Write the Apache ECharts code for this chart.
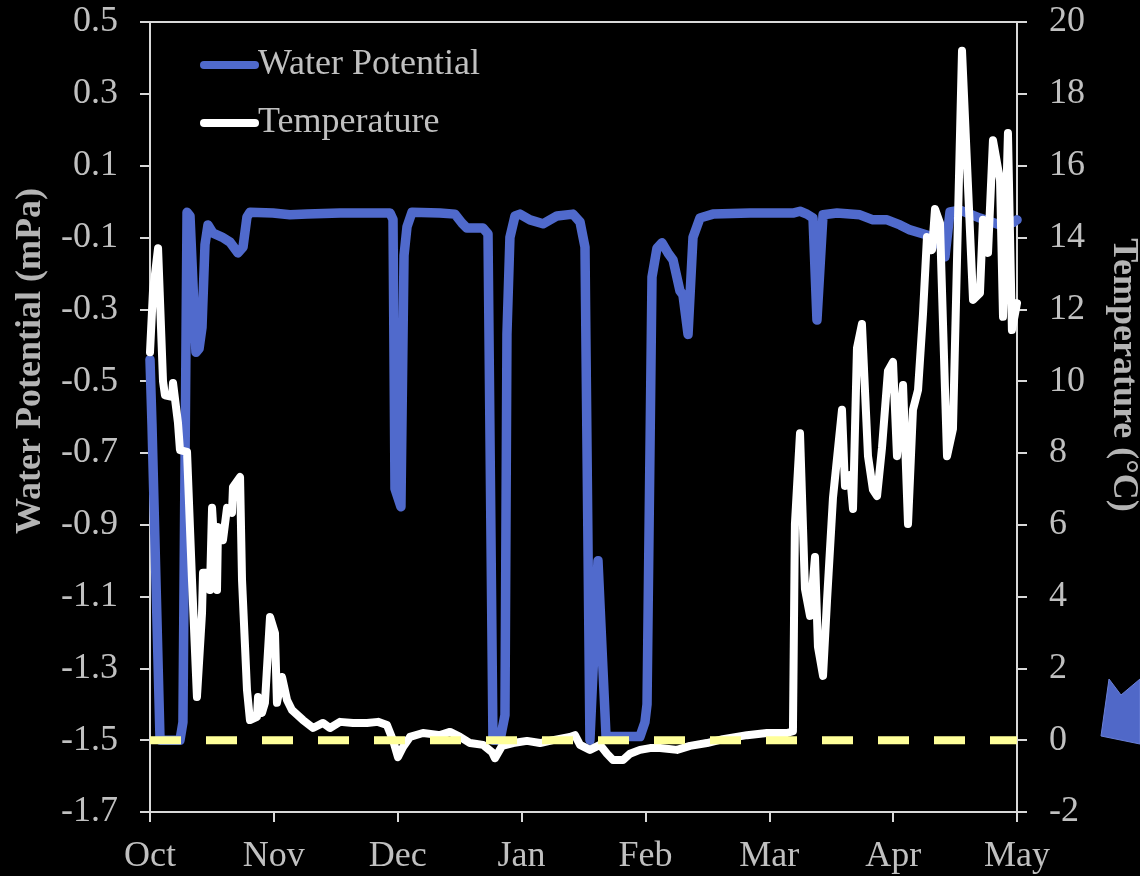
<!DOCTYPE html>
<html>
<head>
<meta charset="utf-8">
<script src="https://cdn.jsdelivr.net/npm/echarts@6/dist/echarts.min.js"></script>
<style>
html,body{margin:0;padding:0;background:#000;}
#chart{width:1140px;height:876px;}
</style>
</head>
<body>
<div id="chart"></div>
<script>
// ---- data (x in months since Oct 1) ----
const monthLabels = ['Oct','Nov','Dec','Jan','Feb','Mar','Apr','May'];
const monthTicks = [0,1,2,3,4,5,6,7];
const wpTicks = [-1.7,-1.5,-1.3,-1.1,-0.9,-0.7,-0.5,-0.3,-0.1,0.1,0.3,0.5];
const tempTicks = [-2,0,2,4,6,8,10,12,14,16,18,20];

const wpMonth = [0.000,0.016,0.081,0.242,0.266,0.299,0.323,0.371,0.396,0.420,0.444,0.468,0.509,0.581,0.646,0.710,0.751,0.783,0.807,0.993,1.130,1.268,1.534,1.776,1.938,1.962,1.978,2.026,2.051,2.075,2.115,2.341,2.462,2.519,2.559,2.689,2.729,2.769,2.826,2.866,2.882,2.906,2.947,2.987,3.068,3.173,3.286,3.415,3.472,3.512,3.552,3.617,3.682,3.956,3.996,4.013,4.053,4.093,4.134,4.182,4.223,4.279,4.303,4.344,4.384,4.440,4.545,4.844,5.191,5.248,5.304,5.353,5.385,5.434,5.547,5.732,5.837,5.951,6.055,6.136,6.273,6.378,6.418,6.459,6.540,6.701,6.863,6.968,7.000];
const wpValue = [-0.44,-0.62,-1.50,-1.50,-1.45,-0.03,-0.04,-0.42,-0.41,-0.35,-0.12,-0.065,-0.088,-0.099,-0.113,-0.143,-0.127,-0.043,-0.03,-0.032,-0.037,-0.035,-0.032,-0.032,-0.032,-0.05,-0.80,-0.85,-0.15,-0.07,-0.03,-0.032,-0.035,-0.06,-0.074,-0.074,-0.09,-1.50,-1.50,-1.43,-0.37,-0.10,-0.04,-0.035,-0.051,-0.062,-0.040,-0.035,-0.057,-0.127,-1.50,-1.00,-1.49,-1.49,-1.45,-1.40,-0.21,-0.13,-0.115,-0.143,-0.163,-0.249,-0.26,-0.37,-0.10,-0.046,-0.035,-0.032,-0.032,-0.027,-0.035,-0.046,-0.33,-0.037,-0.032,-0.037,-0.051,-0.051,-0.065,-0.079,-0.093,-0.12,-0.154,-0.029,-0.024,-0.046,-0.065,-0.058,-0.051];

const tempMonth = [0.000,0.024,0.065,0.105,0.121,0.178,0.186,0.226,0.242,0.299,0.339,0.379,0.420,0.428,0.468,0.484,0.501,0.541,0.549,0.589,0.622,0.662,0.670,0.727,0.743,0.783,0.807,0.864,0.872,0.904,0.928,0.969,1.009,1.025,1.066,1.106,1.146,1.235,1.316,1.397,1.453,1.534,1.639,1.752,1.841,1.913,1.962,2.002,2.043,2.099,2.204,2.341,2.422,2.503,2.584,2.689,2.761,2.785,2.842,2.931,3.044,3.149,3.254,3.391,3.431,3.472,3.552,3.633,3.690,3.738,3.819,3.875,3.956,4.037,4.118,4.255,4.360,4.497,4.626,4.820,4.981,5.143,5.191,5.207,5.248,5.288,5.329,5.369,5.393,5.434,5.466,5.514,5.587,5.611,5.652,5.676,5.708,5.748,5.797,5.837,5.870,5.910,5.958,5.999,6.031,6.080,6.120,6.160,6.201,6.241,6.273,6.314,6.338,6.378,6.435,6.483,6.556,6.645,6.701,6.725,6.766,6.806,6.863,6.887,6.927,6.959,7.000];
const tempValue = [10.8,12.5,13.7,10.0,9.6,9.56,9.95,8.83,8.08,8.03,4.46,1.2,3.54,4.66,4.66,4.18,6.47,4.18,5.94,5.57,6.47,6.33,7.05,7.33,4.46,1.4,0.56,0.65,1.2,0.76,1.04,3.43,2.98,1.04,1.76,1.12,0.84,0.56,0.34,0.48,0.34,0.51,0.48,0.48,0.51,0.42,0.0,-0.47,-0.19,0.09,0.2,0.14,0.23,0.09,-0.08,-0.13,-0.33,-0.5,-0.16,-0.08,-0.02,-0.08,0.0,0.09,0.14,-0.13,-0.27,-0.13,-0.38,-0.55,-0.55,-0.38,-0.27,-0.22,-0.22,-0.27,-0.16,-0.08,0.03,0.14,0.2,0.2,0.25,6.02,8.55,4.21,3.46,5.1,2.6,1.79,3.88,6.74,9.2,7.08,7.38,6.44,10.92,11.59,7.91,6.97,6.8,8.14,10.28,10.53,7.91,9.89,6.02,9.2,9.75,11.87,14.01,13.65,14.79,14.4,7.91,8.67,19.2,12.26,12.45,14.49,13.57,16.71,15.6,11.79,16.91,11.42,12.17];

const freezeMonth = [0, 7];
const freezeValue = [0, 0];

const zip = (xs, ys) => xs.map((x, i) => [x, ys[i]]);

const FONT = 'Liberation Serif';
const LABEL = '#c0c0c0';
const AXIS = '#d9d9d9';
const BLUE = '#506acc';

const chart = echarts.init(document.getElementById('chart'), null, {renderer: 'canvas'});
chart.setOption({
  backgroundColor: '#000',
  animation: false,
  grid: {left: 150, right: 123, top: 22, bottom: 64, show: true, borderColor: AXIS, borderWidth: 2, outerBoundsMode: 'none'},
  legend: {
    orient: 'vertical', left: 195, top: 42, itemGap: 22,
    itemWidth: 59, itemHeight: 8,
    icon: 'path://M4,0 H55 A4,4 0 0 1 55,8 H4 A4,4 0 0 1 4,0 Z',
    data: ['Water Potential', 'Temperature'],
    textStyle: {color: LABEL, fontFamily: FONT, fontSize: 36, padding: [0,0,0,-6]}
  },
  xAxis: {
    type: 'value', min: 0, max: 7,
    axisLine: {onZero: false, lineStyle: {color: AXIS, width: 2}},
    axisTick: {show: true, length: 10, lineStyle: {color: AXIS, width: 2}, customValues: monthTicks},
    axisLabel: {color: LABEL, fontFamily: FONT, fontSize: 36, margin: 27, customValues: monthTicks,
      formatter: v => monthLabels[Math.round(v)]},
    splitLine: {show: false}
  },
  yAxis: [
    {
      type: 'value', min: -1.7, max: 0.5, position: 'left',
      axisLine: {show: true, onZero: false, lineStyle: {color: AXIS, width: 2}},
      axisTick: {show: true, length: 10, lineStyle: {color: AXIS, width: 2}, customValues: wpTicks},
      axisLabel: {color: LABEL, fontFamily: FONT, fontSize: 36, margin: 32, customValues: wpTicks,
        formatter: v => v.toFixed(1)},
      splitLine: {show: false}
    },
    {
      type: 'value', min: -2, max: 20, position: 'right',
      axisLine: {show: true, onZero: false, lineStyle: {color: AXIS, width: 2}},
      axisTick: {show: true, length: 10, lineStyle: {color: AXIS, width: 2}, customValues: tempTicks},
      axisLabel: {color: LABEL, fontFamily: FONT, fontSize: 36, margin: 32, customValues: tempTicks,
        formatter: v => String(Math.round(v))},
      splitLine: {show: false}
    }
  ],
  series: [
    {
      name: 'Water Potential', type: 'line', yAxisIndex: 0, color: BLUE,
      showSymbol: false, symbol: 'none',
      lineStyle: {color: BLUE, width: 9.5, cap: 'round', join: 'round'},
      data: zip(wpMonth, wpValue)
    },
    {
      name: 'Temperature', type: 'line', yAxisIndex: 1, color: '#ffffff',
      showSymbol: false, symbol: 'none',
      lineStyle: {color: '#ffffff', width: 8, cap: 'round', join: 'round'},
      data: zip(tempMonth, tempValue)
    },
    {
      name: 'Freezing', type: 'line', yAxisIndex: 1, color: '#ffff99',
      showSymbol: false, symbol: 'none', silent: true,
      lineStyle: {color: '#ffff99', width: 8, type: [31, 25], cap: 'butt'},
      data: zip(freezeMonth, freezeValue)
    }
  ],
  graphic: [
    {type: 'text', x: 31, y: 361, rotation: Math.PI / 2,
      style: {text: 'Water Potential (mPa)', fill: '#b4b4b4', font: 'bold 36px "Liberation Serif"', align: 'center', verticalAlign: 'middle'}},
    {type: 'text', x: 1123, y: 375, rotation: -Math.PI / 2,
      style: {text: 'Temperature (°C)', fill: '#b4b4b4', font: 'bold 36px "Liberation Serif"', align: 'center', verticalAlign: 'middle'}},
    {type: 'polygon', shape: {points: [[1101,736],[1109,679],[1121,695],[1140,679],[1140,744]]},
      style: {fill: '#5068c8', stroke: '#6a80d8', lineWidth: 1}}
  ]
});
</script>
</body>
</html>
